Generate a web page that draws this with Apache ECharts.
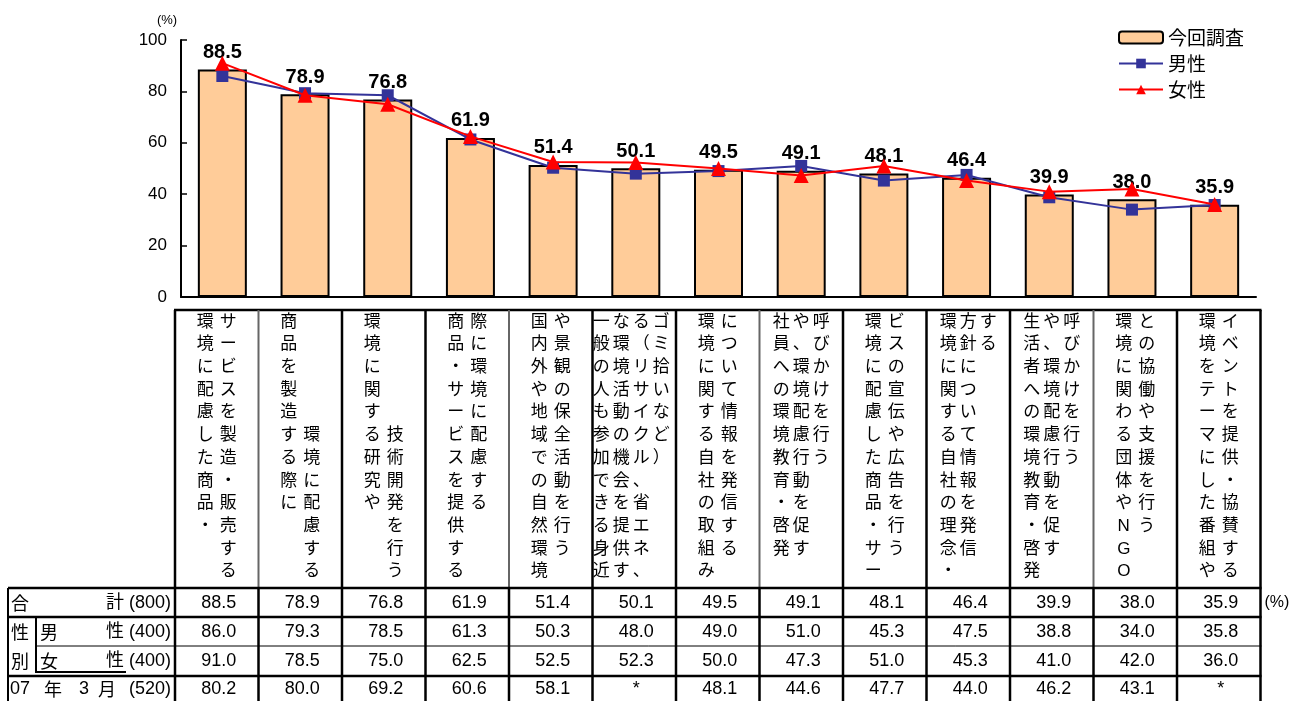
<!DOCTYPE html>
<html><head><meta charset="utf-8">
<script src="https://cdn.jsdelivr.net/npm/echarts@6/dist/echarts.min.js"></script>
<style>html,body{margin:0;padding:0;background:#fff}#c{width:1300px;height:701px}</style>
</head><body><div id="c"></div>
<script>
// ---- data ----
const labelColumns = [
  ["環境に配慮した商品・", "サービスを製造・販売する"],
  ["商品を製造する際に", "　　　　　環境に配慮する"],
  ["環境に関する研究や", "　　　　　技術開発を行う"],
  ["商品・サービスを提供する", "際に環境に配慮する"],
  ["国内外や地域での自然環境", "や景観の保全活動を行う"],
  ["一般の人も参加できる身近", "な環境活動の機会を提供す", "る（リサイクル、省エネ、", "ゴミ拾いなど）"],
  ["環境に関する自社の取組み", "について情報を発信する"],
  ["社員への環境教育・啓発", "や、環境配慮行動を促す", "呼びかけを行う"],
  ["環境に配慮した商品・サー", "ビスの宣伝や広告を行う"],
  ["環境に関する自社の理念・", "方針について情報を発信", "する"],
  ["生活者への環境教育・啓発", "や、環境配慮行動を促す", "呼びかけを行う"],
  ["環境に関わる団体やNGO", "との協働や支援を行う"],
  ["環境をテーマにした番組や", "イベントを提供・協賛する"]
];
const categories = labelColumns.map(cols => cols.map(c => c.replace(/　/g, '')).join(''));
const totalValues  = [88.5, 78.9, 76.8, 61.9, 51.4, 50.1, 49.5, 49.1, 48.1, 46.4, 39.9, 38.0, 35.9];
const maleValues   = [86.0, 79.3, 78.5, 61.3, 50.3, 48.0, 49.0, 51.0, 45.3, 47.5, 38.8, 34.0, 35.8];
const femaleValues = [91.0, 78.5, 75.0, 62.5, 52.5, 52.3, 50.0, 47.3, 51.0, 45.3, 41.0, 42.0, 36.0];
const prevValues   = [80.2, 80.0, 69.2, 60.6, 58.1, null, 48.1, 44.6, 47.7, 44.0, 46.2, 43.1, null];
const seriesNames  = ['今回調査', '男性', '女性'];
const sampleSizes  = ['(800)', '(400)', '(400)', '(520)'];

// ---- layout ----
const TL = 175, CW = 83.5, TR = TL + CW * 13;
const LBL_TOP = 310, ROW_Y = [588, 617, 646, 675, 701];
const ROW_C = [603, 632, 661, 689];
const JP = '"Noto Sans CJK JP"';
const NUMF = '"Liberation Sans", "Noto Sans CJK JP"';

const g = [];
function line(x1, y1, x2, y2, w, c) {
  g.push({type: 'line', silent: true, z: 10, shape: {x1, y1, x2, y2}, style: {stroke: c || '#000', lineWidth: w}});
}
function text(t, x, y, align, size, extra) {
  g.push({type: 'text', silent: true, z: 11, style: Object.assign({
    text: t, x, y, align: align, verticalAlign: 'middle', fill: '#000',
    fontSize: size, fontFamily: NUMF}, extra || {})});
}
// vertical labels
labelColumns.forEach((cols, i) => {
  const cx = TL + CW * (i + 0.5);
  const n = cols.length;
  const s = n === 2 ? 23 : 20;
  cols.forEach((col, j) => {
    const x = cx + (j - (n - 1) / 2) * s - (n === 4 ? 3 : 0);
    g.push({type: 'text', silent: true, z: 11, style: {
      text: Array.from(col).join('\n'), x, y: LBL_TOP + 0.6, align: 'center', verticalAlign: 'top',
      lineHeight: 22.7, fontSize: 17, fontFamily: NUMF, fill: '#000'}});
  });
});
// grid lines of the label area and table
const grayCols = [1, 4, 7, 11];
line(TL - 1, LBL_TOP, TR + 1, LBL_TOP, 2.5);
for (let k = 0; k <= 13; k++) {
  const x = TL + CW * k;
  line(x, LBL_TOP, x, ROW_Y[0], grayCols.includes(k) ? 2 : 2.5, grayCols.includes(k) ? '#666' : '#000');
  line(x, ROW_Y[0], x, 701, 2.5);
}
line(8, ROW_Y[0], 8, 701, 2);
line(8, ROW_Y[0], TR + 1, ROW_Y[0], 2.5);
line(8, ROW_Y[1], TR + 1, ROW_Y[1], 2.5);
line(36, ROW_Y[2], TR + 1, ROW_Y[2], 1);
line(36, ROW_Y[1], 36, ROW_Y[3] - 2, 2);
line(36, ROW_Y[3] - 3, 126, ROW_Y[3] - 3, 2);
line(8, ROW_Y[3] + 1, TR + 1, ROW_Y[3] + 1, 2.5);
// row headers
text('合', 11, ROW_C[0], 'left', 18, {fontFamily: JP});
text('計 ' + sampleSizes[0], 171, ROW_C[0], 'right', 18);
text('性', 11, ROW_C[1], 'left', 18, {fontFamily: JP});
text('別', 11, ROW_C[2], 'left', 18, {fontFamily: JP});
text('男', 40, ROW_C[1], 'left', 18, {fontFamily: JP});
text('性 ' + sampleSizes[1], 171, ROW_C[1], 'right', 18);
text('女', 40, ROW_C[2], 'left', 18, {fontFamily: JP});
text('性 ' + sampleSizes[2], 171, ROW_C[2], 'right', 18);
text('07', 10, ROW_C[3], 'left', 18);
text('年', 53, ROW_C[3], 'center', 18, {fontFamily: JP});
text('3', 84, ROW_C[3], 'center', 18);
text('月', 107, ROW_C[3], 'center', 18, {fontFamily: JP});
text(sampleSizes[3], 171, ROW_C[3], 'right', 18);
text('(%)', TR + 4, ROW_C[0], 'left', 16);
// table values
[totalValues, maleValues, femaleValues, prevValues].forEach((arr, r) => {
  arr.forEach((v, i) => {
    text(v == null ? '*' : v.toFixed(1), TL + CW * (i + 0.5) + 2, ROW_C[r], 'center', 18);
  });
});

const chart = echarts.init(document.getElementById('c'), null, {renderer: 'canvas'});
chart.setOption({
  animation: false,
  backgroundColor: '#fff',
  textStyle: {fontFamily: NUMF},
  grid: {left: 181, right: 44, top: 40, bottom: 404, containLabel: false},
  legend: {
    orient: 'vertical', left: 1113, top: 22, itemWidth: 44, itemHeight: 12, itemGap: 5,
    textStyle: {fontSize: 19, lineHeight: 21, fontFamily: JP, color: '#000'}, data: seriesNames
  },
  xAxis: {
    type: 'category', data: categories,
    axisLine: {lineStyle: {color: '#000', width: 2}},
    axisTick: {inside: true, length: 5, lineStyle: {color: '#000', width: 1.5}},
    axisLabel: {show: false}
  },
  yAxis: {
    type: 'value', min: 0, max: 100, interval: 20,
    name: '(%)', nameLocation: 'end', nameGap: 13,
    nameTextStyle: {fontSize: 13, color: '#000', align: 'center', padding: [0, 28, 0, 0]},
    axisLine: {show: true, lineStyle: {color: '#000', width: 2}},
    axisTick: {show: true, inside: true, length: 6, lineStyle: {color: '#000', width: 1.5}},
    axisLabel: {fontSize: 17, color: '#000', margin: 14},
    splitLine: {show: false}
  },
  series: [
    {name: seriesNames[0], type: 'bar', data: totalValues, barWidth: 49,
     itemStyle: {color: '#FFCC99', borderColor: '#000', borderWidth: 2},
     label: {show: true, position: 'top', distance: 7, fontSize: 20, fontWeight: 'bold', color: '#000',
             fontFamily: NUMF, formatter: p => p.value.toFixed(1)}},
    {name: seriesNames[1], type: 'line', data: maleValues, color: '#333399',
     symbol: 'rect', symbolSize: 12, lineStyle: {width: 2}, z: 3},
    {name: seriesNames[2], type: 'line', data: femaleValues, color: '#FF0000',
     symbol: 'triangle', symbolSize: 15, lineStyle: {width: 2}, z: 4}
  ],
  graphic: g
});
</script>
</body></html>
